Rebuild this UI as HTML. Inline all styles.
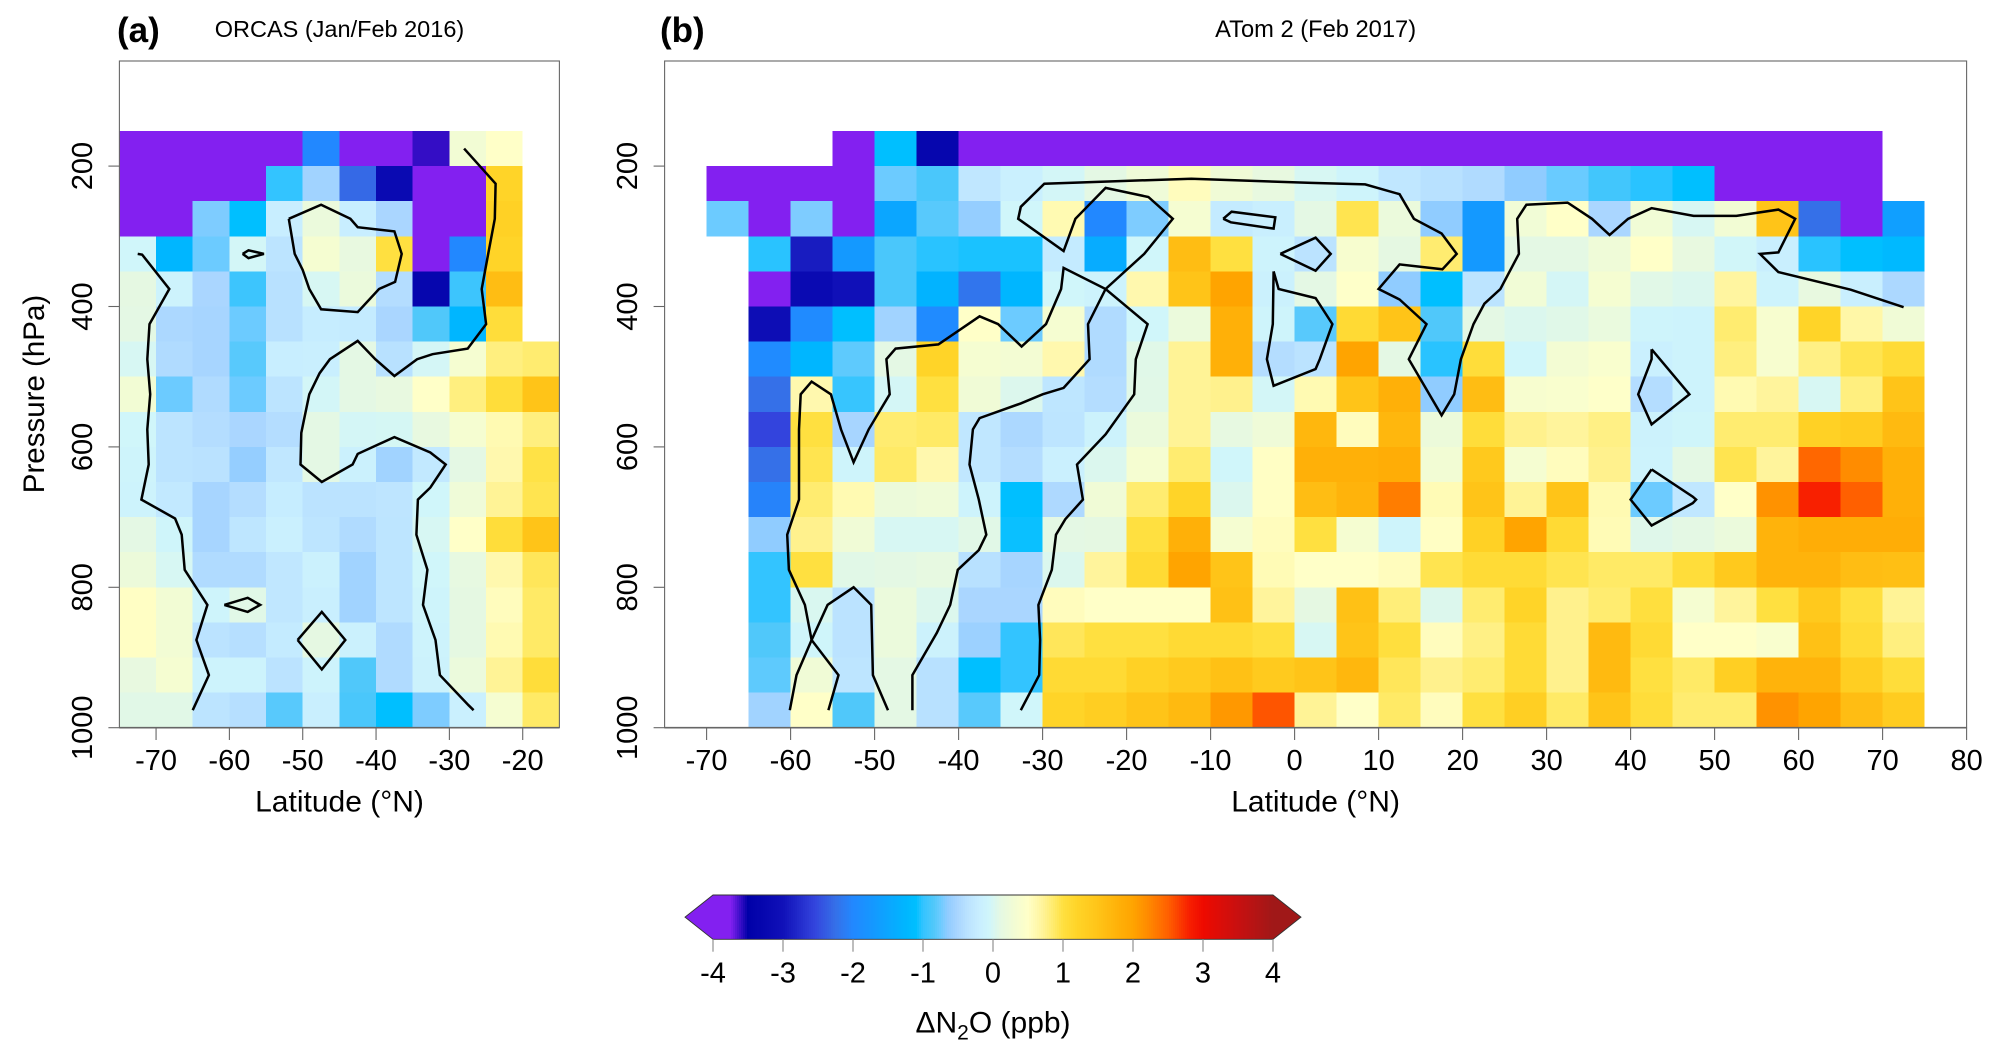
<!DOCTYPE html>
<html lang="en">
<head>
<meta charset="utf-8">
<title>N2O anomaly curtains</title>
<style>
html,body{margin:0;padding:0;background:#fff}
svg{display:block;font-family:"Liberation Sans",Arial,sans-serif;fill:#000}
</style>
</head>
<body>
<svg id="chart" xmlns="http://www.w3.org/2000/svg" width="2002" height="1060" viewBox="0 0 2002 1060">
  <rect x="0" y="0" width="2002" height="1060" fill="#fff"/>
  <g id="panel-a"></g>
  <g id="panel-b"></g>
  <g id="colorbar"></g>
  <text x="117" y="42" font-size="35" font-weight="bold">(a)</text>
  <text x="339.5" y="37" font-size="23.5" text-anchor="middle">ORCAS (Jan/Feb 2016)</text>
  <text x="660" y="42" font-size="35" font-weight="bold">(b)</text>
  <text x="1315.6" y="37" font-size="23.7" text-anchor="middle">ATom 2 (Feb 2017)</text>
  <text x="44" y="394" font-size="29.5" text-anchor="middle" transform="rotate(-90 44 394)">Pressure (hPa)</text>
  <text x="339.5" y="811.7" font-size="30" text-anchor="middle">Latitude (°N)</text>
  <text x="1315.6" y="811.7" font-size="30" text-anchor="middle">Latitude (°N)</text>
  <text x="993" y="1032.7" font-size="30" text-anchor="middle">ΔN<tspan font-size="21" dy="7">2</tspan><tspan dy="-7">O (ppb)</tspan></text>
</svg>
<script>
// ---------- colour scale ----------
const scaleValues = [-4,-3.75,-3.5,-3,-2.55,-2.25,-2,-1.7,-1.25,-1.1,-1,-0.85,-0.75,-0.65,-0.5,-0.35,-0.2,-0.05,0.1,0.3,0.5,0.7,0.85,1,1.2,1.5,1.8,2,2.2,2.5,2.8,3,3.5,4];
const scaleColors = ['#8320f0','#8320f0','#0000a8','#1010b8','#3344dd','#3570e8','#2288ff','#1499ff','#00b6ff','#00bfff','#33c4ff','#50c8fa','#6ccbff','#90ccff','#aad6ff','#bce4ff','#c8eeff','#d0f6fa','#e4f8e4','#f2fcd4','#ffffc8','#fff49c','#ffec70','#ffe040','#ffd428','#ffc418','#ffb008','#ffa400','#ff8c00','#ff6000','#f82000','#ee0a00','#c81010','#a01818'];
const scaleTicks = [-4,-3,-2,-1,0,1,2,3,4];

// ---------- shared axes ----------
const pressureRows = [150,200,250,300,350,400,450,500,550,600,650,700,750,800,850,900,950];
const pressureTicks = [200,400,600,800,1000];

// ---------- panel a: ORCAS ----------
const orcasLats = [-75,-70,-65,-60,-55,-50,-45,-40,-35,-30,-25,-20];
const orcasLatTicks = [-70,-60,-50,-40,-30,-20];
const orcasValues = [
[-4.2,-4.2,-4.2,-4.2,-4.2,-2,-4.2,-4.2,-3.6,0.3,0.5,null],
[-4.2,-4.2,-4.2,-4.2,-1,-0.55,-2.3,-3.2,-4.2,-4.2,1.2,null],
[-4.2,-4.2,-0.7,-1.1,-0.2,0.2,-0.2,-0.5,-4.2,-4.2,1.25,null],
[-0.05,-1.25,-0.75,-0.03,-0.35,0.35,0.15,1,-4.2,-2,1.2,null],
[0.12,-0.1,-0.5,-0.95,-0.38,0,0.2,-0.42,-3.3,-0.95,1.6,null],
[0.1,-0.48,-0.52,-0.75,-0.38,-0.22,-0.25,-0.5,-0.85,-1.25,1.05,null],
[0,-0.45,-0.52,-0.82,-0.2,-0.18,0.1,-0.38,-0.02,0.35,0.8,0.85],
[0.3,-0.75,-0.45,-0.75,-0.35,-0.03,0.1,0.15,0.5,0.8,1.05,1.5],
[-0.05,-0.35,-0.42,-0.5,-0.42,0.1,-0.02,-0.01,0.15,0.35,0.6,0.8],
[-0.08,-0.35,-0.37,-0.62,-0.3,0.1,-0.15,-0.55,-0.28,0.1,0.62,0.98],
[-0.1,-0.28,-0.52,-0.42,-0.22,-0.36,-0.36,-0.33,-0.05,0.25,0.72,0.95],
[0.1,-0.06,-0.52,-0.32,-0.16,-0.34,-0.45,-0.34,0,0.5,1.05,1.5],
[0.22,0,-0.45,-0.45,-0.3,-0.14,-0.55,-0.34,-0.05,0.14,0.62,0.92],
[0.52,0.3,-0.08,0.08,-0.3,-0.18,-0.55,-0.34,-0.08,0.12,0.55,0.88],
[0.52,0.3,-0.36,-0.4,-0.25,0.12,-0.15,-0.45,-0.1,0.12,0.6,0.88],
[0.15,0.35,-0.1,-0.1,-0.36,-0.1,-0.85,-0.45,-0.12,0.2,0.72,1.05],
[0.08,0.08,-0.35,-0.4,-0.82,-0.18,-0.88,-1.1,-0.7,-0.16,0.35,0.88]
];
const orcasContours = [
[[-72.5,325],[-71.9,326],[-68.2,375],[-70.9,425],[-71.2,475],[-70.8,525],[-71.2,575],[-71,625],[-72,675],[-67.4,702],[-66.5,725],[-66.1,775],[-63,825],[-64.5,875],[-62.8,925],[-65,975]],
[[-28,175],[-23.7,225],[-23.8,275],[-24.7,325],[-25.6,375],[-25,425],[-27.5,460],[-32.3,468],[-34.4,475],[-37.5,499],[-40.1,475],[-42.5,449],[-46.3,475],[-47.7,495],[-49.1,525],[-49.8,560],[-50.2,580],[-50.3,625],[-47.4,650],[-43.2,625],[-42.5,610],[-37.5,586],[-32.6,608],[-30.5,625],[-32.6,658],[-34.3,675],[-34.5,725],[-33,775],[-33.6,825],[-31.9,875],[-31.3,925],[-27.4,968],[-26.7,975]],
[[-51.9,275],[-47.5,255],[-43.5,275],[-42.5,287],[-37.5,293],[-36.5,325],[-37.4,365],[-39.6,375],[-42.5,408],[-47.5,404],[-49.1,375],[-50,348],[-51.1,325],[-51.9,275]],
[[-58.2,325],[-57.4,320],[-55.3,325],[-57.4,331],[-58.2,325]],
[[-60.7,825],[-57.5,815],[-55.8,825],[-57.5,835],[-60.7,825]],
[[-50.7,875],[-47.4,835],[-44.2,875],[-47.4,917],[-50.7,875]]
];

// ---------- panel b: ATom 2 ----------
const atomLats = [-70,-65,-60,-55,-50,-45,-40,-35,-30,-25,-20,-15,-10,-5,0,5,10,15,20,25,30,35,40,45,50,55,60,65,70];
const atomLatTicks = [-70,-60,-50,-40,-30,-20,-10,0,10,20,30,40,50,60,70,80];
const atomValues = [
[null,null,null,-4.2,-1.1,-3.3,-4.2,-4.2,-4.2,-4.2,-4.2,-4.2,-4.2,-4.2,-4.2,-4.2,-4.2,-4.2,-4.2,-4.2,-4.2,-4.2,-4.2,-4.2,-4.2,-4.2,-4.2,-4.2,null],
[-4.2,-4.2,-4.2,-4.2,-0.75,-0.88,-0.3,-0.16,-0.03,0.1,0.25,0.55,0.27,0.15,0,-0.08,-0.3,-0.38,-0.45,-0.65,-0.76,-0.92,-1.02,-1.1,-4.2,-4.2,-4.2,-4.2,null],
[-0.75,-4.2,-0.7,-4.2,-1.5,-0.82,-0.62,-0.05,0.6,-2,-0.7,0.35,-0.25,-0.18,0.1,0.95,0.2,-0.65,-1.7,0.28,0.5,-0.5,0.28,0,0.3,1.5,-2.25,-4.2,-1.6],
[null,-1.02,-2.9,-1.7,-0.88,-1.02,-1.05,-1.05,-0.25,-1.4,-0.05,1.6,1,-0.1,-0.36,0.38,0.12,0.85,-1.7,0.1,0.1,0.25,0.5,0.15,-0.04,-0.18,-1.02,-1.1,-1.2],
[null,-4.2,-3.2,-3,-0.88,-1.3,-2.2,-1.25,-0.05,-0.1,0.62,1.5,2,-0.15,0.1,0.48,-0.65,-1.1,-0.35,0.28,-0.02,0.35,0.08,0.03,0.68,-0.1,0.15,-0.18,-0.48],
[null,-3.1,-1.95,-1.1,-0.55,-1.95,0.5,-0.75,0.35,-0.45,-0.05,0.2,1.8,-0.08,-0.82,1.1,1.5,-0.85,0.1,0.03,0.07,0.18,-0.08,-0.1,0.85,0.38,1.2,0.65,0.27],
[null,-1.95,-1.25,-0.8,0.1,1.2,0.35,0.32,0.62,-0.45,0.07,0.72,1.8,-0.42,-0.36,2,0.1,-1.02,1.05,-0.05,0.32,0.4,-0.16,-0.1,0.8,0.38,0.78,0.95,1.08],
[null,-2.25,0.62,-0.98,-0.02,1,0.27,0.04,-0.32,-0.42,0.08,0.72,0.75,-0.03,0.6,1.5,1.8,-0.65,1.6,0.38,0.4,0.48,-0.42,-0.1,0.6,0.7,0,0.8,1.5],
[null,-2.55,1,-0.52,0.85,0.88,-0.3,-0.48,-0.34,-0.12,0.2,0.72,0.14,0.25,1.7,0.55,1.7,0.22,1.05,0.75,0.7,0.78,-0.12,-0.06,0.85,0.85,1.25,1.35,1.65],
[null,-2.25,0.95,-0.08,0.88,0.62,-0.3,-0.42,-0.16,0.03,0.35,0.85,-0.05,0.52,1.8,1.8,1.85,0.3,1.4,0.35,0.55,0.75,-0.1,0.1,0.95,0.7,2.45,2.2,1.8],
[null,-2.05,0.85,0.6,0.22,0.25,-0.1,-1.1,-0.47,0.27,0.85,1.2,0.03,0.52,1.6,1.75,2.3,0.58,1.5,0.72,1.5,0.6,-0.75,-0.3,0.5,2.15,2.8,2.5,1.8],
[null,-0.65,0.75,0.27,0,0,0.08,-1.08,0.1,0.12,1,1.8,0.35,0.55,1,0.35,-0.08,0.52,1.25,2,1.1,0.58,0.06,0.1,0.2,1.75,1.85,1.85,1.85],
[null,-1,1,0.08,0.1,0.14,-0.38,-0.52,0.03,0.7,1.1,2,1.5,0.58,0.5,0.5,0.55,0.95,1.08,1.08,0.95,0.88,0.88,1.05,1.4,1.75,1.75,1.6,1.58],
[null,-1,0.02,-0.36,0.2,0.04,-0.5,-0.5,0.55,0.5,0.5,0.5,1.55,0.7,0.12,1.55,0.82,0.04,0.85,1.2,0.75,0.85,1.02,0.35,0.7,1,1.4,1.02,0.72],
[null,-0.85,-0.06,-0.36,0.2,-0.12,-0.58,-1,0.92,1,1,1.1,1.1,1.02,0,1.5,1.02,0.55,0.78,1.08,0.75,1.65,1.1,0.5,0.5,0.4,1.55,1.08,0.8],
[null,-0.8,0.27,-0.34,0.1,-0.38,-1.1,-1,1.1,1.1,1.25,1.38,1.55,1.38,1.5,1.7,0.92,0.75,0.85,1.08,0.75,1.65,1,0.88,1.3,1.75,1.75,1.32,1.05],
[null,-0.55,0.5,-0.85,0.1,-0.38,-0.82,-0.05,1.2,1.32,1.5,1.65,2.1,2.55,0.72,0.5,0.88,0.55,1,1.3,0.88,1.5,1.05,0.85,0.85,2.15,2,1.6,1.35]
];
const atomContours = [
[[72.5,401],[66.2,376],[57.6,351],[55.4,325],[57.6,323],[59.6,275],[57.6,262],[52.6,271],[47.5,271],[42.5,260],[39.7,275],[37.5,298],[35.4,275],[32.5,252],[27.6,255],[26.5,275],[26.7,325],[24.5,375],[22.6,396],[21.3,425],[19.8,475],[19,525],[17.5,555],[13.6,475],[15.7,425],[12.5,390],[10,375],[12.5,340],[17.6,347],[19.3,325],[17.5,296],[14.2,275],[12.5,240],[8.4,226],[2,224],[-12.3,218],[-29.8,225],[-32.6,258],[-32.9,275],[-27.5,321],[-26.1,275],[-22.5,231],[-17.4,244],[-14.5,275],[-17.9,325],[-22.5,375],[-24.6,425],[-24.4,475],[-27.5,516],[-30,525],[-32.6,538],[-37.5,559],[-38.3,575],[-38.7,625],[-37.6,675],[-36.7,725],[-37.6,747],[-40.1,775],[-41,825],[-42.6,865],[-45.5,925],[-45.5,975]],
[[-32.6,975],[-30.4,925],[-30.3,875],[-30.5,825],[-28.9,775],[-28.4,725],[-27.3,703],[-25.2,675],[-25.9,625],[-22.5,582],[-19.1,525],[-18.9,475],[-17.5,425],[-22.5,375],[-27.5,345],[-27.8,375],[-29.6,425],[-32.5,457],[-35.3,425],[-37.5,414],[-42.4,454],[-47.5,460],[-48.6,475],[-48.2,525],[-50.7,575],[-52.5,622],[-54,575],[-55.2,525],[-57.5,507],[-58.8,525],[-59,575],[-59,625],[-59,675],[-60.4,725],[-60.2,775],[-58.3,825],[-57.5,875],[-54.3,925],[-55.5,975]],
[[-60.1,975],[-59.3,925],[-57.5,875],[-55.6,825],[-52.5,800],[-50.4,825],[-50.2,925],[-48.4,975]],
[[-8.5,275],[-7.5,265],[-2.3,273],[-2.5,289],[-7.6,280],[-8.5,275]],
[[-1.7,325],[2.5,302],[4.3,325],[2.5,349],[-1.7,325]],
[[-2.5,350],[-1.9,375],[2.5,388],[4.5,425],[3,475],[2.5,489],[-2.5,513],[-3.3,475],[-2.6,425],[-2.5,350]],
[[42.5,461],[42.5,475],[40.9,525],[42.5,568],[47,525],[42.5,461]],
[[42.5,632],[47.4,671],[47.8,675],[47.4,680],[42.5,712],[40,675],[42.5,632]]
];

const NS = 'http://www.w3.org/2000/svg';
const latStep = 5;
const pressureStep = 50;
const yScale = p => 727.7 - (1000 - p) * 0.702;

function hexToRgb(h){ return [1,3,5].map(i => parseInt(h.substr(i,2),16)); }
function colorFor(v){
  if (v <= scaleValues[0]) return scaleColors[0];
  const last = scaleValues.length - 1;
  if (v >= scaleValues[last]) return scaleColors[last];
  for (let i = 0; i < last; i++) {
    if (v <= scaleValues[i+1]) {
      const t = (v - scaleValues[i]) / (scaleValues[i+1] - scaleValues[i]);
      const a = hexToRgb(scaleColors[i]), b = hexToRgb(scaleColors[i+1]);
      return 'rgb(' + a.map((c,k) => Math.round(c + (b[k]-c)*t)).join(',') + ')';
    }
  }
  return scaleColors[last];
}
function add(parent, tag, attrs){
  const el = document.createElementNS(NS, tag);
  for (const k in attrs) el.setAttribute(k, attrs[k]);
  parent.appendChild(el);
  return el;
}

function drawPanel(group, cfg){
  const x = cfg.xScale;
  cfg.values.forEach((row, r) => {
    row.forEach((v, c) => {
      if (v === null) return;
      const left = x(cfg.lats[c]), right = x(cfg.lats[c] + latStep);
      const top = yScale(pressureRows[r]), bottom = yScale(pressureRows[r] + pressureStep);
      const cell = add(group, 'rect', {x:left, y:top, width:right-left, height:bottom-top, fill:colorFor(v), 'shape-rendering':'crispEdges'});
      
      
    });
  });
  cfg.contours.forEach(pts => {
    const line = add(group, 'polyline', {points:pts.map(p => x(p[0]).toFixed(1)+','+yScale(p[1]).toFixed(1)).join(' '), fill:'none', stroke:'#000', 'stroke-width':2.5, 'stroke-linejoin':'miter'});
    
    
  });
  const frame = add(group, 'rect', {x:cfg.left, y:61, width:cfg.right-cfg.left, height:yScale(1000)-61, fill:'none', stroke:'#666', 'stroke-width':1.1});
  
  
  const base = add(group, 'line', {x1:cfg.left, x2:cfg.right, y1:yScale(1000), y2:yScale(1000), stroke:'#666', 'stroke-width':1.6});
  
  
  cfg.latTicks.forEach(t => {
    const tick = add(group, 'line', {x1:x(t), x2:x(t), y1:yScale(1000), y2:740, stroke:'#666', 'stroke-width':1.1});
    
    
    const lab = add(group, 'text', {x:x(t), y:770, 'font-size':29, 'text-anchor':'middle'});
    lab.textContent = String(t);
    
    
  });
  pressureTicks.forEach(p => {
    const y = yScale(p);
    const tick = add(group, 'line', {x1:cfg.left-11, x2:cfg.left, y1:y, y2:y, stroke:'#666', 'stroke-width':1.1});
    
    
    const lab = add(group, 'text', {x:cfg.labelX, y:y, 'font-size':29, 'text-anchor':'middle', transform:'rotate(-90 '+cfg.labelX+' '+y+')'});
    lab.textContent = String(p);
    
    
  });
}

drawPanel(document.getElementById('panel-a'), {
  values: orcasValues, lats: orcasLats, contours: orcasContours, latTicks: orcasLatTicks,
  xScale: lat => 119.4 + (lat + 75) * 7.333, left: 119.4, right: 559.4, labelX: 92
});
drawPanel(document.getElementById('panel-b'), {
  values: atomValues, lats: atomLats, contours: atomContours, latTicks: atomLatTicks,
  xScale: lat => 664.6 + (lat + 75) * 8.4, left: 664.6, right: 1966.6, labelX: 637
});

// ---------- colour bar ----------
(function(){
  const g = document.getElementById('colorbar');
  const x = v => 713 + (v + 4) * 70;
  const top = 895, bottom = 939.3, mid = (top + bottom) / 2;
  const steps = 280;
  const lo = scaleValues[0], hi = scaleValues[scaleValues.length-1];
  for (let i = 0; i < steps; i++) {
    const v0 = lo + (hi-lo) * i / steps, v1 = lo + (hi-lo) * (i+1) / steps;
    const seg = add(g, 'rect', {x:x(v0), y:top, width:x(v1)-x(v0)+0.5, height:bottom-top, fill:colorFor((v0+v1)/2), 'shape-rendering':'crispEdges'});
    
    
  }
  const tipL = add(g, 'polygon', {points:[[x(lo),top],[x(lo)-28,mid],[x(lo),bottom]].join(' '), fill:scaleColors[0]});
  
  
  const tipR = add(g, 'polygon', {points:[[x(hi),top],[x(hi)+28,mid],[x(hi),bottom]].join(' '), fill:scaleColors[scaleColors.length-1]});
  
  
  const outline = add(g, 'polygon', {points:[[x(lo),top],[x(hi),top],[x(hi)+28,mid],[x(hi),bottom],[x(lo),bottom],[x(lo)-28,mid]].join(' '), fill:'none', stroke:'#333', 'stroke-width':0.9});
  
  
  scaleTicks.forEach(t => {
    const tick = add(g, 'line', {x1:x(t), x2:x(t), y1:bottom, y2:951.7, stroke:'#999', 'stroke-width':1.3});
    
    
    const lab = add(g, 'text', {x:x(t), y:982.7, 'font-size':29, 'text-anchor':'middle'});
    lab.textContent = String(t);
    
    
  });
})();
</script>
</body>
</html>
